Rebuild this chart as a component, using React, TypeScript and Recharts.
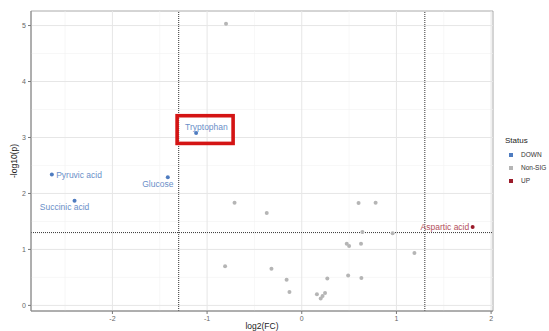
import React from 'react';
import { ScatterChart, Scatter, XAxis, YAxis, ReferenceLine, ReferenceArea } from 'recharts';

const downPoints = [
  { name: 'Tryptophan', x: -1.116, y: 3.08 },
  { name: 'Pyruvic acid', x: -2.64, y: 2.34 },
  { name: 'Glucose', x: -1.415, y: 2.29 },
  { name: 'Succinic acid', x: -2.40, y: 1.87 },
];
const upPoints = [{ name: 'Aspartic acid', x: 1.805, y: 1.40 }];
const nonSigPoints = [
  { name: '', x: -0.80, y: 5.03 },
  { name: '', x: -0.71, y: 1.835 },
  { name: '', x: -0.37, y: 1.65 },
  { name: '', x: -0.81, y: 0.70 },
  { name: '', x: -0.32, y: 0.655 },
  { name: '', x: -0.16, y: 0.46 },
  { name: '', x: -0.13, y: 0.24 },
  { name: '', x: 0.16, y: 0.20 },
  { name: '', x: 0.20, y: 0.125 },
  { name: '', x: 0.22, y: 0.17 },
  { name: '', x: 0.246, y: 0.22 },
  { name: '', x: 0.27, y: 0.48 },
  { name: '', x: 0.475, y: 1.10 },
  { name: '', x: 0.50, y: 1.06 },
  { name: '', x: 0.49, y: 0.535 },
  { name: '', x: 0.60, y: 1.83 },
  { name: '', x: 0.78, y: 1.835 },
  { name: '', x: 0.626, y: 1.10 },
  { name: '', x: 0.64, y: 1.31 },
  { name: '', x: 0.63, y: 0.49 },
  { name: '', x: 0.96, y: 1.29 },
  { name: '', x: 1.19, y: 0.935 },
];

const xTicks = [-2, -1, 0, 1, 2];
const yTicks = [0, 1, 2, 3, 4, 5];
const xMinorGrid = [-2.5, -1.5, -0.5, 0.5, 1.5];
const yMinorGrid = [0.5, 1.5, 2.5, 3.5, 4.5];
const fcThresholds = [-1.3, 1.3];
const pThreshold = 1.301;
const xDomain = [-2.86, 2.02];
const yDomain = [-0.1, 5.26];

const legendItems = [
  { label: 'DOWN', color: '#4f7cc0' },
  { label: 'Non-SIG', color: '#b5b5b5' },
  { label: 'UP', color: '#9b1b2a' },
];

const FONT = '"Liberation Sans", Arial, sans-serif';

const labelPlacement: Record<string, { dx: number; dy: number; anchor: string }> = {
  'Pyruvic acid': { dx: 4.3, dy: 3.7, anchor: 'start' },
  Glucose: { dx: 5.6, dy: 9.7, anchor: 'end' },
  'Succinic acid': { dx: -10, dy: 9, anchor: 'middle' },
  Tryptophan: { dx: -11, dy: -3, anchor: 'start' },
  'Aspartic acid': { dx: -3.4, dy: 2.6, anchor: 'end' },
};

const makeShape = (color: string, labelColor: string) => (props: any) => {
  const { cx, cy, payload } = props;
  const name = payload?.name;
  const place = name ? labelPlacement[name] : undefined;
  return (
    <g>
      <circle cx={cx} cy={cy} r={2} fill={color} />
      {place && (
        <text
          x={cx + place.dx}
          y={cy + place.dy}
          textAnchor={place.anchor as any}
          fontSize={8.5}
          fontFamily={FONT}
          fill={labelColor}
        >
          {name}
        </text>
      )}
      {name === 'Tryptophan' && (
        <rect x={cx - 19} y={cy - 17.3} width={56} height={27.7} fill="none" stroke="#d41414" strokeWidth={3.6} />
      )}
    </g>
  );
};

const LegendBox = () => (
  <div style={{ position: 'absolute', left: 505, top: 136, fontFamily: FONT, color: '#222' }}>
    <div style={{ fontSize: 8, marginBottom: 2, lineHeight: '10px' }}>Status</div>
    {legendItems.map((it) => (
      <div key={it.label} style={{ display: 'flex', alignItems: 'center', height: 13, fontSize: 6.5, color: '#333', whiteSpace: 'nowrap' }}>
        <span style={{ display: 'inline-block', width: 4, height: 4, background: it.color, marginLeft: 4, marginRight: 8 }} />
        {it.label}
      </div>
    ))}
  </div>
);

export default function App() {
  return (
    <div style={{ position: 'absolute', left: 0, top: 0, width: 549, height: 331, background: '#fff' }}>
      <ScatterChart width={549} height={331} margin={{ top: 11, right: 56, bottom: 0, left: 0 }}>
        <XAxis
          type="number"
          dataKey="x"
          domain={xDomain}
          ticks={xTicks}
          allowDataOverflow
          height={20}
          tickSize={3}
          tick={{ fontSize: 7, fill: '#666', fontFamily: FONT }}
          tickLine={{ stroke: '#777' }}
          axisLine={{ stroke: '#888' }}
          label={(p: any) => {
            const vb = p.viewBox;
            return (
              <text x={vb.x + vb.width / 2} y={vb.y + 18} textAnchor="middle" fontSize={8.5} fontFamily={FONT} fill="#222">
                log2(FC)
              </text>
            );
          }}
        />
        <YAxis
          type="number"
          dataKey="y"
          domain={yDomain}
          ticks={yTicks}
          allowDataOverflow
          width={31}
          tickSize={3}
          tick={{ fontSize: 7, fill: '#666', fontFamily: FONT }}
          tickLine={{ stroke: '#777' }}
          axisLine={{ stroke: '#888' }}
          label={(p: any) => {
            const vb = p.viewBox;
            const cy = vb.y + vb.height / 2;
            return (
              <text x={14} y={cy} transform={`rotate(-90, 14, ${cy})`} textAnchor="middle" dominantBaseline="central" fontSize={8.5} fontFamily={FONT} fill="#222">
                -log10(p)
              </text>
            );
          }}
        />
        {xMinorGrid.map((v) => (
          <ReferenceLine key={'xm' + v} x={v} stroke="#f2f2f2" strokeWidth={0.6} />
        ))}
        {yMinorGrid.map((v) => (
          <ReferenceLine key={'ym' + v} y={v} stroke="#f2f2f2" strokeWidth={0.6} />
        ))}
        {xTicks.map((v) => (
          <ReferenceLine key={'xM' + v} x={v} stroke="#e6e6e6" strokeWidth={1} />
        ))}
        {yTicks.map((v) => (
          <ReferenceLine key={'yM' + v} y={v} stroke="#e6e6e6" strokeWidth={1} />
        ))}
        <ReferenceArea x1={xDomain[0]} x2={xDomain[1]} y1={yDomain[0]} y2={yDomain[1]} fill="none" stroke="#aaa" strokeWidth={1} />
        {fcThresholds.map((v) => (
          <ReferenceLine key={'fc' + v} x={v} stroke="#333" strokeWidth={1} strokeDasharray="1 1" />
        ))}
        <ReferenceLine y={pThreshold} stroke="#333" strokeWidth={1} strokeDasharray="1 1" />
        <Scatter name="Non-SIG" data={nonSigPoints} fill="#b5b5b5" shape={makeShape('#b5b5b5', '#999')} isAnimationActive={false} />
        <Scatter name="DOWN" data={downPoints} fill="#4f7cc0" shape={makeShape('#4f7cc0', '#6a8fc8')} isAnimationActive={false} />
        <Scatter name="UP" data={upPoints} fill="#9b1b2a" shape={makeShape('#9b1b2a', '#b4505c')} isAnimationActive={false} />
      </ScatterChart>
      <LegendBox />
    </div>
  );
}
